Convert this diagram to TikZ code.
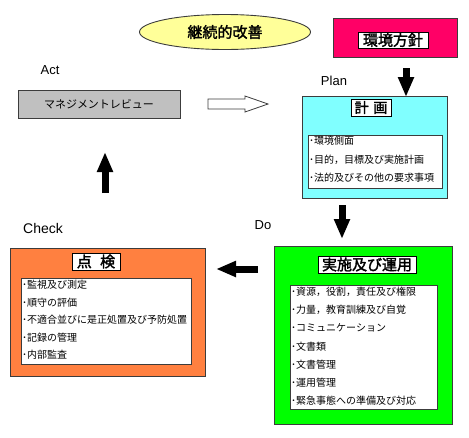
\documentclass[tikz,border=0pt]{standalone}
\usepackage{fontspec}
\setmainfont{Liberation Sans}
\newfontfamily\jp{Noto Sans CJK JP}[AutoFakeBold=2]
\usetikzlibrary{shapes.geometric,arrows.meta,calc}
\definecolor{ellyellow}{RGB}{255,255,153}
\definecolor{polpink}{RGB}{255,0,102}
\definecolor{mgray}{RGB}{192,192,192}
\definecolor{pcyan}{RGB}{128,255,255}
\definecolor{corange}{RGB}{255,128,64}
\definecolor{dgreen}{RGB}{0,255,0}
\definecolor{edge}{RGB}{60,60,60}
\tikzset{
  frame/.style={draw=edge,line width=0.9pt,inner sep=0pt},
  whitebox/.style={frame,fill=white},
  titlebox/.style={draw=black,line width=0.7pt,fill=white,inner sep=0pt,font=\jp\bfseries\fontsize{15}{15}\selectfont},
  item/.style={anchor=west,inner sep=0pt,font=\jp\fontsize{10}{10}\selectfont},
  pdca/.style={inner sep=0pt,font=\fontsize{13}{13}\selectfont},
  fatarrow/.style={line width=7pt,-{Triangle[width=15pt,length=20pt]}},
}
\begin{document}
\begin{tikzpicture}[x=1pt,y=-1pt]
\useasboundingbox (0,0) rectangle (469,437);
% continual improvement ellipse
\node[ellipse,draw=edge,line width=0.9pt,fill=ellyellow,minimum width=171pt,minimum height=35pt,inner sep=0pt,
      font=\jp\bfseries\fontsize{15}{15}\selectfont] (kaizen) at (225,32) {継続的改善};
% environmental policy
\node[frame,fill=polpink,minimum width=124pt,minimum height=39pt] (policy) at (395,37.5) {};
\node[titlebox,minimum width=70pt,minimum height=16pt] (policyt) at (393,40) {環境方針};
% labels
\node[pdca] (act) at (50,70) {Act};
\node[pdca] (plan) at (334,81) {Plan};
\node[pdca] (do) at (263,225) {Do};
\node[pdca,font=\fontsize{14}{14}\selectfont] (check) at (43,228) {Check};
% management review
\node[frame,fill=mgray,minimum width=162pt,minimum height=28pt,font=\jp\fontsize{11}{11}\selectfont] (review) at (99,104) {マネジメントレビュー};
% plan box
\node[frame,fill=pcyan,minimum width=145pt,minimum height=102pt] (planbox) at (374.5,147) {};
\node[titlebox,minimum width=40pt,minimum height=17pt,font=\jp\bfseries\fontsize{14}{14}\selectfont] (plant) at (371,107.5) {計\,\,画};
\node[whitebox,minimum width=134pt,minimum height=53pt] (planlist) at (375,161.5) {};
\foreach \t [count=\i] in {環境側面,{目的，目標及び実施計画},法的及びその他の要求事項}
  \node[item] (p\i) at (309,{141+18.5*(\i-1)}) {･\t};
% check box
\node[frame,fill=corange,minimum width=195pt,minimum height=128pt] (checkbox) at (107.5,312) {};
\node[titlebox,minimum width=48pt,minimum height=17pt] (checkt) at (96,261.5) {点\;\;検};
\node[whitebox,minimum width=170pt,minimum height=86pt] (checklist) at (106,321) {};
\foreach \t [count=\i] in {監視及び測定,順守の評価,不適合並びに是正処置及び予防処置,記録の管理,内部監査}
  \node[item] (c\i) at (22,{285+17.5*(\i-1)}) {･\t};
% do box
\node[frame,fill=dgreen,minimum width=178pt,minimum height=178pt] (dobox) at (363,335) {};
\node[titlebox,minimum width=98pt,minimum height=17pt] (dot) at (367,264.5) {実施及び運用};
\node[whitebox,minimum width=147pt,minimum height=124pt] (dolist) at (363.5,347) {};
\foreach \t [count=\i] in {{資源，役割，責任及び権限},{力量，教育訓練及び自覚},コミュニケーション,文書類,文書管理,運用管理,緊急事態への準備及び対応}
  \node[item] (d\i) at (291,{292+18.1*(\i-1)}) {･\t};
% arrows
\coordinate (a1) at (406,68);  \coordinate (a2) at (406,97);
\draw[fatarrow] (a1) -- (a2);
\coordinate (b1) at (342,205); \coordinate (b2) at (342,239);
\draw[fatarrow] (b1) -- (b2);
\coordinate (e1) at (258,269); \coordinate (e2) at (216,269);
\draw[fatarrow] (e1) -- (e2);
\coordinate (f1) at (105,193); \coordinate (f2) at (105,152);
\draw[fatarrow] (f1) -- (f2);
% hollow arrow review -> plan
\coordinate (h1) at (208,104); \coordinate (h2) at (268,104);
\draw[draw=edge,line width=0.8pt,fill=white]
  ($(h1)+(0,-5)$) -- ($(h2)+(-23,-5)$) -- ($(h2)+(-23,-8)$) -- (h2) -- ($(h2)+(-23,8)$) -- ($(h2)+(-23,5)$) -- ($(h1)+(0,5)$) -- cycle;
\end{tikzpicture}
\end{document}
